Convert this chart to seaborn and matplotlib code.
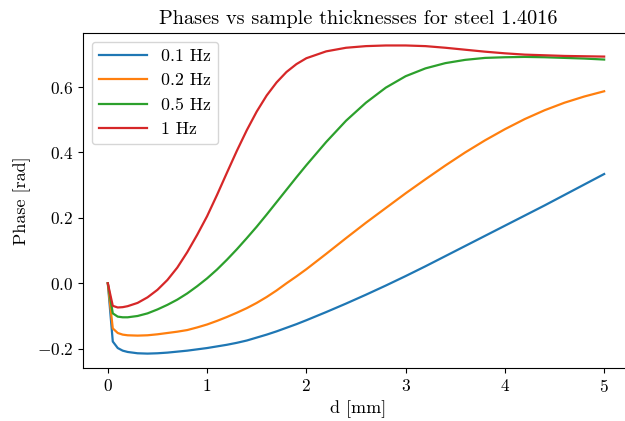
import matplotlib
matplotlib.use("Agg")
import matplotlib.pyplot as plt
import seaborn as sns
import pandas as pd

thickness_mm = [0, 0.05, 0.1, 0.15, 0.2, 0.3, 0.4, 0.5, 0.6, 0.7, 0.8, 0.9, 1.0,
                1.1, 1.2, 1.3, 1.4, 1.5, 1.6, 1.7, 1.8, 1.9, 2.0, 2.2, 2.4, 2.6,
                2.8, 3.0, 3.2, 3.4, 3.6, 3.8, 4.0, 4.2, 4.4, 4.6, 4.8, 5.0]

phase_01hz = [0, -0.178, -0.198, -0.206, -0.210, -0.214, -0.215, -0.214, -0.212, -0.209,
              -0.206, -0.202, -0.198, -0.193, -0.188, -0.182, -0.175, -0.166, -0.157,
              -0.147, -0.136, -0.125, -0.113, -0.088, -0.062, -0.035, -0.007, 0.022,
              0.052, 0.083, 0.114, 0.145, 0.176, 0.207, 0.238, 0.270, 0.302, 0.334]

phase_02hz = [0, -0.138, -0.152, -0.157, -0.159, -0.160, -0.159, -0.156, -0.152, -0.148,
              -0.143, -0.135, -0.126, -0.115, -0.103, -0.090, -0.076, -0.060, -0.042,
              -0.022, 0.000, 0.021, 0.043, 0.090, 0.138, 0.185, 0.230, 0.275, 0.318,
              0.360, 0.400, 0.437, 0.471, 0.502, 0.529, 0.552, 0.571, 0.587]

phase_05hz = [0, -0.092, -0.102, -0.104, -0.104, -0.100, -0.092, -0.080, -0.066, -0.050,
              -0.031, -0.009, 0.015, 0.042, 0.072, 0.104, 0.138, 0.173, 0.210, 0.248,
              0.286, 0.324, 0.361, 0.432, 0.497, 0.552, 0.598, 0.633, 0.657, 0.673,
              0.683, 0.689, 0.691, 0.692, 0.691, 0.689, 0.687, 0.684]

phase_1hz = [0, -0.069, -0.074, -0.073, -0.070, -0.060, -0.043, -0.020, 0.010, 0.048,
             0.095, 0.148, 0.205, 0.270, 0.338, 0.405, 0.468, 0.525, 0.574, 0.614,
             0.646, 0.670, 0.688, 0.709, 0.720, 0.725, 0.727, 0.727, 0.725, 0.720,
             0.714, 0.708, 0.703, 0.699, 0.697, 0.695, 0.694, 0.693]

series_labels = ["0.1 Hz", "0.2 Hz", "0.5 Hz", "1 Hz"]
x_ticks = [0, 1, 2, 3, 4, 5]
y_ticks = [-0.2, 0.0, 0.2, 0.4, 0.6]

plt.rcParams.update({
    "font.family": "serif",
    "font.serif": ["cmr10"],
    "mathtext.fontset": "cm",
    "axes.formatter.use_mathtext": True,
    "axes.unicode_minus": True,
})

frames = []
for lab, vals in zip(series_labels, [phase_01hz, phase_02hz, phase_05hz, phase_1hz]):
    frames.append(pd.DataFrame({"d": thickness_mm, "phase": vals, "freq": lab}))
df = pd.concat(frames, ignore_index=True)

fig = plt.figure(figsize=(6.25, 4.21), dpi=100)
ax = fig.add_axes([0.1328, 0.1259, 0.8815, 0.7964])
sns.lineplot(data=df, x="d", y="phase", hue="freq", hue_order=series_labels,
             palette=sns.color_palette("tab10", 4), linewidth=1.6, ax=ax,
             estimator=None, sort=False)

ax.set_xlim(-0.25, 5.3)
ax.set_ylim(-0.259, 0.766)
ax.set_xticks(x_ticks)
ax.set_yticks(y_ticks)
ax.tick_params(labelsize=12.5)
ax.set_xlabel("d [mm]", fontsize=13)
ax.set_ylabel("Phase [rad]", fontsize=13)
ax.set_title("Phases vs sample thicknesses for steel 1.4016", fontsize=14.6)
handles, labels = ax.get_legend_handles_labels()
ax.legend(handles, labels, loc="upper left", fontsize=12.8, handlelength=2.7)

fig.savefig("out.png", dpi=100)
